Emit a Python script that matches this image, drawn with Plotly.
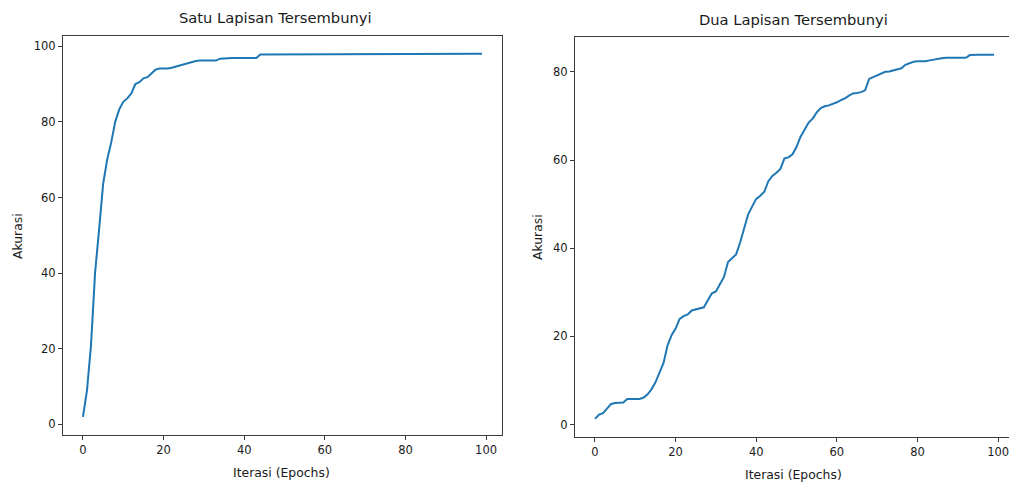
import plotly.graph_objects as go

epochs = list(range(100))

akurasi_satu = [
    2.0, 9.0, 21.0, 40.0, 51.5, 63.5, 70.0, 74.5, 80.0, 83.3,
    85.3, 86.2, 87.5, 90.0, 90.5, 91.5, 91.8, 92.8, 93.8, 94.1,
    94.1, 94.1, 94.3, 94.6, 95.0, 95.3, 95.6, 96.0, 96.1, 96.2,
    96.2, 96.2, 96.2, 96.2, 96.7, 96.8, 96.9, 96.9, 96.9, 96.9,
    96.9, 96.9, 96.9, 96.9, 97.8, 97.8, 97.8, 97.8, 97.8, 97.8,
    97.8, 97.8, 97.8, 97.8, 97.8, 97.8, 97.8, 97.8, 97.8, 97.8,
    97.8, 97.8, 97.8, 97.8, 97.8, 97.8, 97.8, 97.8, 97.8, 97.8,
    97.8, 97.8, 97.8, 97.8, 97.8, 97.8, 97.8, 97.8, 97.8, 97.8,
    97.8, 97.8, 97.8, 97.8, 97.8, 97.8, 97.8, 97.8, 97.8, 97.8,
    97.8, 97.8, 97.8, 97.8, 97.8, 97.8, 98.0, 98.0, 98.0, 98.0,
]

akurasi_dua = [
    1.3, 2.3, 2.6, 3.6, 4.7, 4.9, 5.0, 5.0, 5.8, 5.8,
    5.8, 5.8, 6.1, 6.8, 8.0, 9.6, 11.8, 14.0, 18.0, 20.3,
    21.8, 24.0, 24.6, 25.0, 25.9, 26.1, 26.3, 26.6, 28.2, 29.8,
    30.2, 31.7, 33.5, 36.9, 37.7, 38.6, 41.3, 44.5, 47.7, 49.5,
    51.2, 51.9, 52.8, 55.2, 56.4, 57.1, 58.0, 60.4, 60.6, 61.3,
    63.0, 65.3, 66.9, 68.5, 69.4, 70.8, 71.8, 72.2, 72.4, 72.7,
    73.1, 73.6, 74.0, 74.6, 75.1, 75.2, 75.4, 75.8, 78.4, 78.8,
    79.2, 79.7, 80.0, 80.1, 80.3, 80.5, 80.8, 81.6, 81.9, 82.3,
    82.4, 82.4, 82.4, 82.6, 82.8, 82.9, 83.1, 83.2, 83.2, 83.2,
    83.2, 83.2, 83.2, 83.8, 83.9, 83.9, 83.9, 83.9, 83.9, 83.9,
]

judul = ["Satu Lapisan Tersembunyi", "Dua Lapisan Tersembunyi"]
label_x = "Iterasi (Epochs)"
label_y = "Akurasi"
ticks_x = [0, 20, 40, 60, 80, 100]
ticks_y1 = [0, 20, 40, 60, 80, 100]
ticks_y2 = [0, 20, 40, 60, 80]

W, H = 1009, 484
FONT = "DejaVu Sans"
TXT = "#1a1a1a"
FRAME = "#3a3a3a"
BLUE = "#1f77b4"

fig = go.Figure()
fig.add_trace(go.Scatter(x=epochs, y=akurasi_satu, mode="lines",
                         line=dict(color=BLUE, width=2), xaxis="x", yaxis="y",
                         showlegend=False))
fig.add_trace(go.Scatter(x=epochs, y=akurasi_dua, mode="lines",
                         line=dict(color=BLUE, width=2), xaxis="x2", yaxis="y2",
                         showlegend=False))

def px_x(p):
    return p / W

def px_y(p):
    return 1 - p / H

ax_common = dict(showgrid=False, zeroline=False, showline=True, linecolor=FRAME,
                 linewidth=1.2, ticks="outside", ticklen=4, tickwidth=1,
                 tickcolor=FRAME, tickfont=dict(family=FONT, size=11.5, color=TXT))

l1, r1, t1, b1 = 63, 502, 36, 435
l2, r2, t2, b2 = 575, 1009, 37, 437

fig.update_layout(
    width=W, height=H, margin=dict(l=0, r=0, t=0, b=0),
    paper_bgcolor="white", plot_bgcolor="white",
    xaxis=dict(domain=[px_x(l1), px_x(r1)], range=[-4.95, 103.95], anchor="y",
               tickvals=ticks_x, mirror=True, **ax_common),
    yaxis=dict(domain=[px_y(b1), px_y(t1)], range=[-2.8, 102.7], anchor="x",
               tickvals=ticks_y1, mirror=True, **ax_common),
    xaxis2=dict(domain=[px_x(l2), px_x(r2)], range=[-4.96, 102.7], anchor="y2",
                tickvals=ticks_x, mirror=True, ticklabeloverflow="allow", **ax_common),
    yaxis2=dict(domain=[px_y(b2), px_y(t2)], range=[-2.8, 87.9], anchor="x2",
                tickvals=ticks_y2, mirror=False, **ax_common),
)

ann = []
ann.append(dict(text=judul[0], x=px_x(275), y=px_y(18), xref="paper", yref="paper",
                showarrow=False, font=dict(family=FONT, size=14.7, color=TXT),
                xanchor="center", yanchor="middle"))
ann.append(dict(text=judul[1], x=px_x(793), y=px_y(20), xref="paper", yref="paper",
                showarrow=False, font=dict(family=FONT, size=14.7, color=TXT),
                xanchor="center", yanchor="middle"))
for cx, cy in [(281, 472), (793, 474)]:
    ann.append(dict(text=label_x, x=px_x(cx), y=px_y(cy), xref="paper", yref="paper",
                    showarrow=False, font=dict(family=FONT, size=12.4, color=TXT),
                    xanchor="center", yanchor="middle"))
for cx, cy in [(18, 236), (537, 237)]:
    ann.append(dict(text=label_y, x=px_x(cx), y=px_y(cy), xref="paper", yref="paper",
                    showarrow=False, textangle=-90, font=dict(family=FONT, size=12.4, color=TXT),
                    xanchor="center", yanchor="middle"))
fig.update_layout(annotations=ann)

fig.write_html("out.html")
